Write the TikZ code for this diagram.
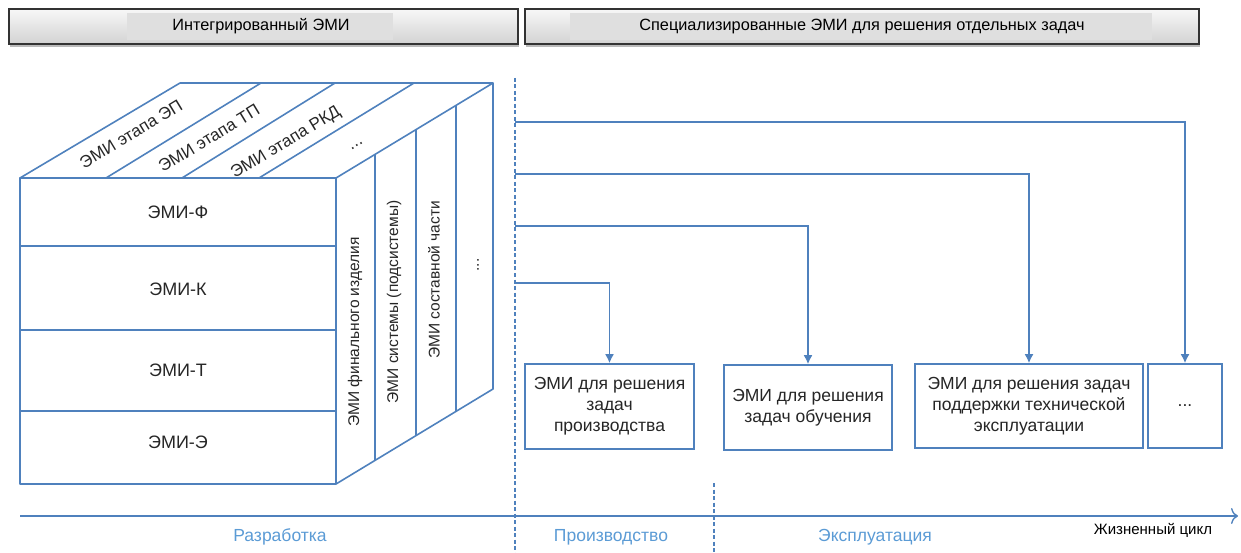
\documentclass[tikz,border=0pt]{standalone}
\usepackage{fontspec}
\setmainfont{Liberation Sans}
\usetikzlibrary{arrows.meta,shadows}
\definecolor{ln}{HTML}{4F81BD}
\definecolor{lbl}{HTML}{5B9BD5}
\definecolor{tx}{HTML}{262626}
\begin{document}
\begin{tikzpicture}[x=1pt,y=-1pt,
  edge/.style={draw=ln, line width=1.6pt, line join=round},
  txt/.style={font=\fontsize{18}{21}\selectfont, text=tx, inner sep=0pt},
  toptxt/.style={font=\fontsize{17}{20}\selectfont, text=tx, inner sep=0pt, rotate=31.2},
  sidetxt/.style={font=\fontsize{15.5}{19}\selectfont, text=tx, inner sep=0pt, rotate=90},
  ttl/.style={font=\fontsize{16.3}{19}\selectfont, text=black, inner sep=0pt},
  lab/.style={font=\fontsize{17.5}{20}\selectfont, text=lbl, inner sep=0pt},
  ebox/.style={draw=ln, line width=1.6pt, fill=white, align=center, inner sep=2pt,
     font=\fontsize{17.5}{21}\selectfont, text=tx},
  head/.style={draw=black!80, line width=1.2pt, top color=gray!6, bottom color=gray!35,
     drop shadow={shadow xshift=1pt, shadow yshift=-3pt, fill=black!45, opacity=0.6}},
  inner/.style={fill=gray!25, draw=none},
  conn/.style={draw=ln, line width=1.6pt, -{Latex[length=9pt,width=9pt]}},
  dsh/.style={draw=ln, line width=1.3pt, dash pattern=on 4pt off 2.5pt}]
\useasboundingbox (0,0) rectangle (1241,553);
% headers
\path[head] (9,9) rectangle (518,44);
\path[inner] (127,13) rectangle (393,40);
\node[ttl] (h1) at (261,26.5) {Интегрированный ЭМИ};
\path[head] (525,9) rectangle (1199,44);
\path[inner] (570,13) rectangle (1152,40);
\node[ttl] (h2) at (862,26.5) {Специализированные ЭМИ для решения отдельных задач};
% cube front face
\draw[edge] (20,178) rectangle (336,484);
\draw[edge] (20,246) -- (336,246);
\draw[edge] (20,330) -- (336,330);
\draw[edge] (20,411) -- (336,411);
\node[txt] (f1) at (178,212) {ЭМИ-Ф};
\node[txt] (f2) at (178,289) {ЭМИ-К};
\node[txt] (f3) at (178,370) {ЭМИ-Т};
\node[txt] (f4) at (178,442) {ЭМИ-Э};
% top face
\draw[edge] (20,178) -- (180,83) -- (493,83) -- (336,178);
\draw[edge] (106,178) -- (261,83);
\draw[edge] (182,178) -- (335,83);
\draw[edge] (259,178) -- (414,83);
\node[toptxt] (t1) at (131,134) {ЭМИ этапа ЭП};
\node[toptxt] (t2) at (209,138) {ЭМИ этапа ТП};
\node[toptxt] (t3) at (286,143) {ЭМИ этапа РКД};
\node[toptxt] (t4) at (357,146) {...};
% side face
\draw[edge] (493,83) -- (493,389) -- (336,484);
\draw[edge] (375,154.4) -- (375,460.4);
\draw[edge] (416,129.6) -- (416,435.6);
\draw[edge] (456,105.4) -- (456,411.4);
\node[sidetxt] (s1) at (355,332) {ЭМИ финального изделия};
\node[sidetxt] (s2) at (394,302) {ЭМИ системы (подсистемы)};
\node[sidetxt] (s3) at (434,280) {ЭМИ составной части};
\node[sidetxt] (s4) at (478,265) {...};
% dashed separators
\coordinate (d1a) at (515,78);
\coordinate (d1b) at (515,553);
\coordinate (d2a) at (714,483);
\coordinate (d2b) at (714,553);
\draw[dsh] (d1a) -- (d1b);
\draw[dsh] (d2a) -- (d2b);
% boxes
\node[ebox, minimum width=169pt, minimum height=85pt] (b1) at (609.5,406.5) {ЭМИ для решения\\задач\\производства};
\node[ebox, minimum width=168pt, minimum height=85pt] (b2) at (808,407.5) {ЭМИ для решения\\задач обучения};
\node[ebox, minimum width=228pt, minimum height=84pt] (b3) at (1029,406) {ЭМИ для решения задач\\поддержки технической\\эксплуатации};
\node[ebox, minimum width=74pt, minimum height=84pt] (b4) at (1185,406) {...};
% connectors
\coordinate (c4) at (515,122);
\coordinate (c3) at (515,174);
\coordinate (c2) at (515,226);
\coordinate (c1) at (515,283);
\draw[conn] (c4) -| (b4.north);
\draw[conn] (c3) -| (b3.north);
\draw[conn] (c2) -| (b2.north);
\draw[conn] (c1) -| (b1.north);
% axis
\coordinate (ax0) at (20,516);
\coordinate (ax1) at (1238,516);
\draw[draw=ln, line width=1.4pt, -{To[length=7pt,width=16pt]}] (ax0) -- (ax1);
\node[lab] (l1) at (280,537) {Разработка};
\node[lab] (l2) at (611,537) {Производство};
\node[lab] (l3) at (875,537) {Эксплуатация};
\node[txt, font=\fontsize{15}{18}\selectfont, text=black] (l4) at (1153,530) {Жизненный цикл};
\end{tikzpicture}
\end{document}
